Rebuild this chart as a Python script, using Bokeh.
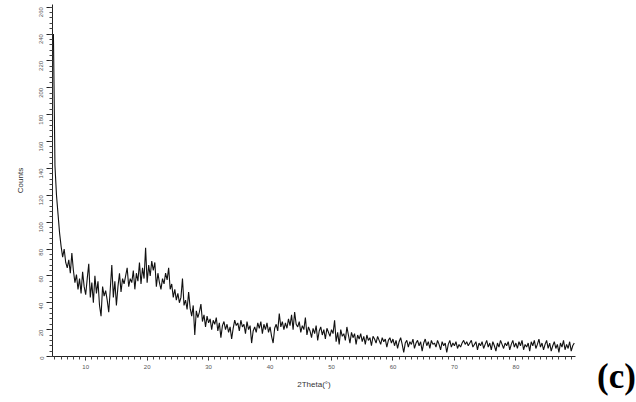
import numpy as np
from bokeh.plotting import figure
from bokeh.models import FixedTicker, Div
from bokeh.layouts import row
from bokeh.embed import file_html
from bokeh.resources import INLINE

# 2Theta grid: start and step (degrees)
theta_start = 4.75
theta_step = 0.25

counts = [
    240, 142, 120, 106, 92, 82, 74, 80, 70, 66, 72, 62, 77, 64, 55, 61, 50, 58, 47, 63,
    52, 46, 58, 69, 44, 55, 40, 60, 47, 56, 38, 30, 52, 45, 49, 42, 33, 50, 68, 44,
    56, 38, 52, 62, 48, 58, 54, 60, 66, 52, 58, 55, 64, 50, 62, 56, 70, 54, 66, 58,
    81, 55, 68, 60, 71, 64, 70, 52, 62, 55, 50, 58, 54, 62, 57, 66, 50, 54, 44, 50,
    42, 47, 40, 44, 58, 38, 42, 35, 48, 36, 30, 38, 16, 34, 29, 33, 39, 26, 31, 22,
    30, 25, 28, 20, 27, 24, 29, 19, 25, 14, 23, 26, 20, 24, 18, 22, 13, 21, 27, 23,
    25, 19, 27, 22, 24, 17, 26, 20, 23, 10, 19, 22, 18, 25, 21, 26, 17, 24, 20, 25,
    18, 22, 15, 10, 21, 24, 19, 32, 22, 26, 20, 25, 21, 28, 23, 31, 20, 33, 24, 22,
    26, 18, 23, 20, 29, 16, 22, 19, 14, 21, 17, 23, 12, 19, 22, 16, 20, 13, 21, 18,
    15, 20, 17, 27, 11, 18, 9, 20, 15, 17, 12, 22, 16, 10, 18, 14, 17, 9, 16, 13,
    17, 11, 15, 9, 16, 12, 14, 8, 15, 13, 10, 15, 12, 9, 14, 11, 13, 7, 12, 14,
    10, 13, 8, 12, 6, 11, 14, 9, 3, 10, 12, 7, 11, 9, 13, 6, 10, 12, 8, 11,
    4, 10, 13, 8, 11, 6, 12, 9, 10, 7, 12, 9, 5, 11, 8, 10, 3, 9, 12, 7,
    10, 8, 11, 6, 9, 7, 10, 12, 9, 11, 8, 10, 12, 7, 9, 11, 5, 10, 8, 11,
    6, 9, 12, 7, 10, 5, 11, 8, 4, 10, 7, 12, 9, 6, 10, 8, 11, 5, 9, 12,
    7, 10, 6, 11, 8, 12, 5, 9, 7, 10, 4, 11, 8, 12, 6, 9, 13, 7, 10, 5,
    9, 12, 6, 10, 4, 8, 11, 6, 9, 3, 10, 7, 12, 5, 9, 6, 11, 4, 8, 10,
]
two_theta = theta_start + theta_step * np.arange(len(counts))

x_ticks = [10, 20, 30, 40, 50, 60, 70, 80]
y_ticks = list(range(0, 261, 20))
x_label = "2Theta(°)"
y_label = "Counts"
panel_tag = "(c)"

p = figure(width=590, height=402, output_backend="svg", toolbar_location=None,
           x_range=(4.6, 89.7), y_range=(0, 262),
           min_border_left=52, min_border_right=15, min_border_top=4, min_border_bottom=46)
p.outline_line_color = None
p.xgrid.visible = False
p.ygrid.visible = False
p.background_fill_color = "white"
p.border_fill_color = "white"

p.line(two_theta, counts, line_color="#111111", line_width=1.1)

for ax in (p.xaxis[0], p.yaxis[0]):
    ax.axis_line_color = "#222222"
    ax.axis_line_width = 1
    ax.major_tick_line_color = "#222222"
    ax.minor_tick_line_color = "#444444"
    ax.major_label_text_font = "Liberation Sans"
    ax.major_label_text_font_size = "6px"
    ax.major_label_text_color = "#555555"
    ax.axis_label_text_font = "Liberation Sans"
    ax.axis_label_text_font_size = "8px"
    ax.axis_label_text_font_style = "normal"
    ax.axis_label_text_color = "#333333"

p.xaxis.ticker = FixedTicker(ticks=x_ticks, minor_ticks=list(range(5, 90)))
p.yaxis.ticker = FixedTicker(ticks=y_ticks, minor_ticks=list(range(0, 262, 4)))
p.xaxis.major_tick_out = 4
p.xaxis.major_tick_in = 0
p.xaxis.minor_tick_out = 3
p.xaxis.minor_tick_in = 0
p.yaxis.major_tick_out = 6
p.yaxis.major_tick_in = 0
p.yaxis.minor_tick_out = 3
p.yaxis.minor_tick_in = 0
p.yaxis.major_label_orientation = np.pi / 2
p.xaxis.axis_label = x_label
p.yaxis.axis_label = y_label
p.xaxis.major_label_standoff = 4
p.yaxis.major_label_standoff = 5
p.xaxis.axis_label_standoff = 8
p.yaxis.axis_label_standoff = 10

tag = Div(text=('<div style="padding-top:354px; margin-left:2px; white-space:nowrap; '
                'font-family:\'Liberation Serif\',serif; font-weight:bold; '
                'font-size:35px; line-height:1; color:#000;">' + panel_tag + '</div>'),
          width=40, height=402)

layout = row(p, tag)
open("out.html", "w").write(file_html(layout, INLINE))
